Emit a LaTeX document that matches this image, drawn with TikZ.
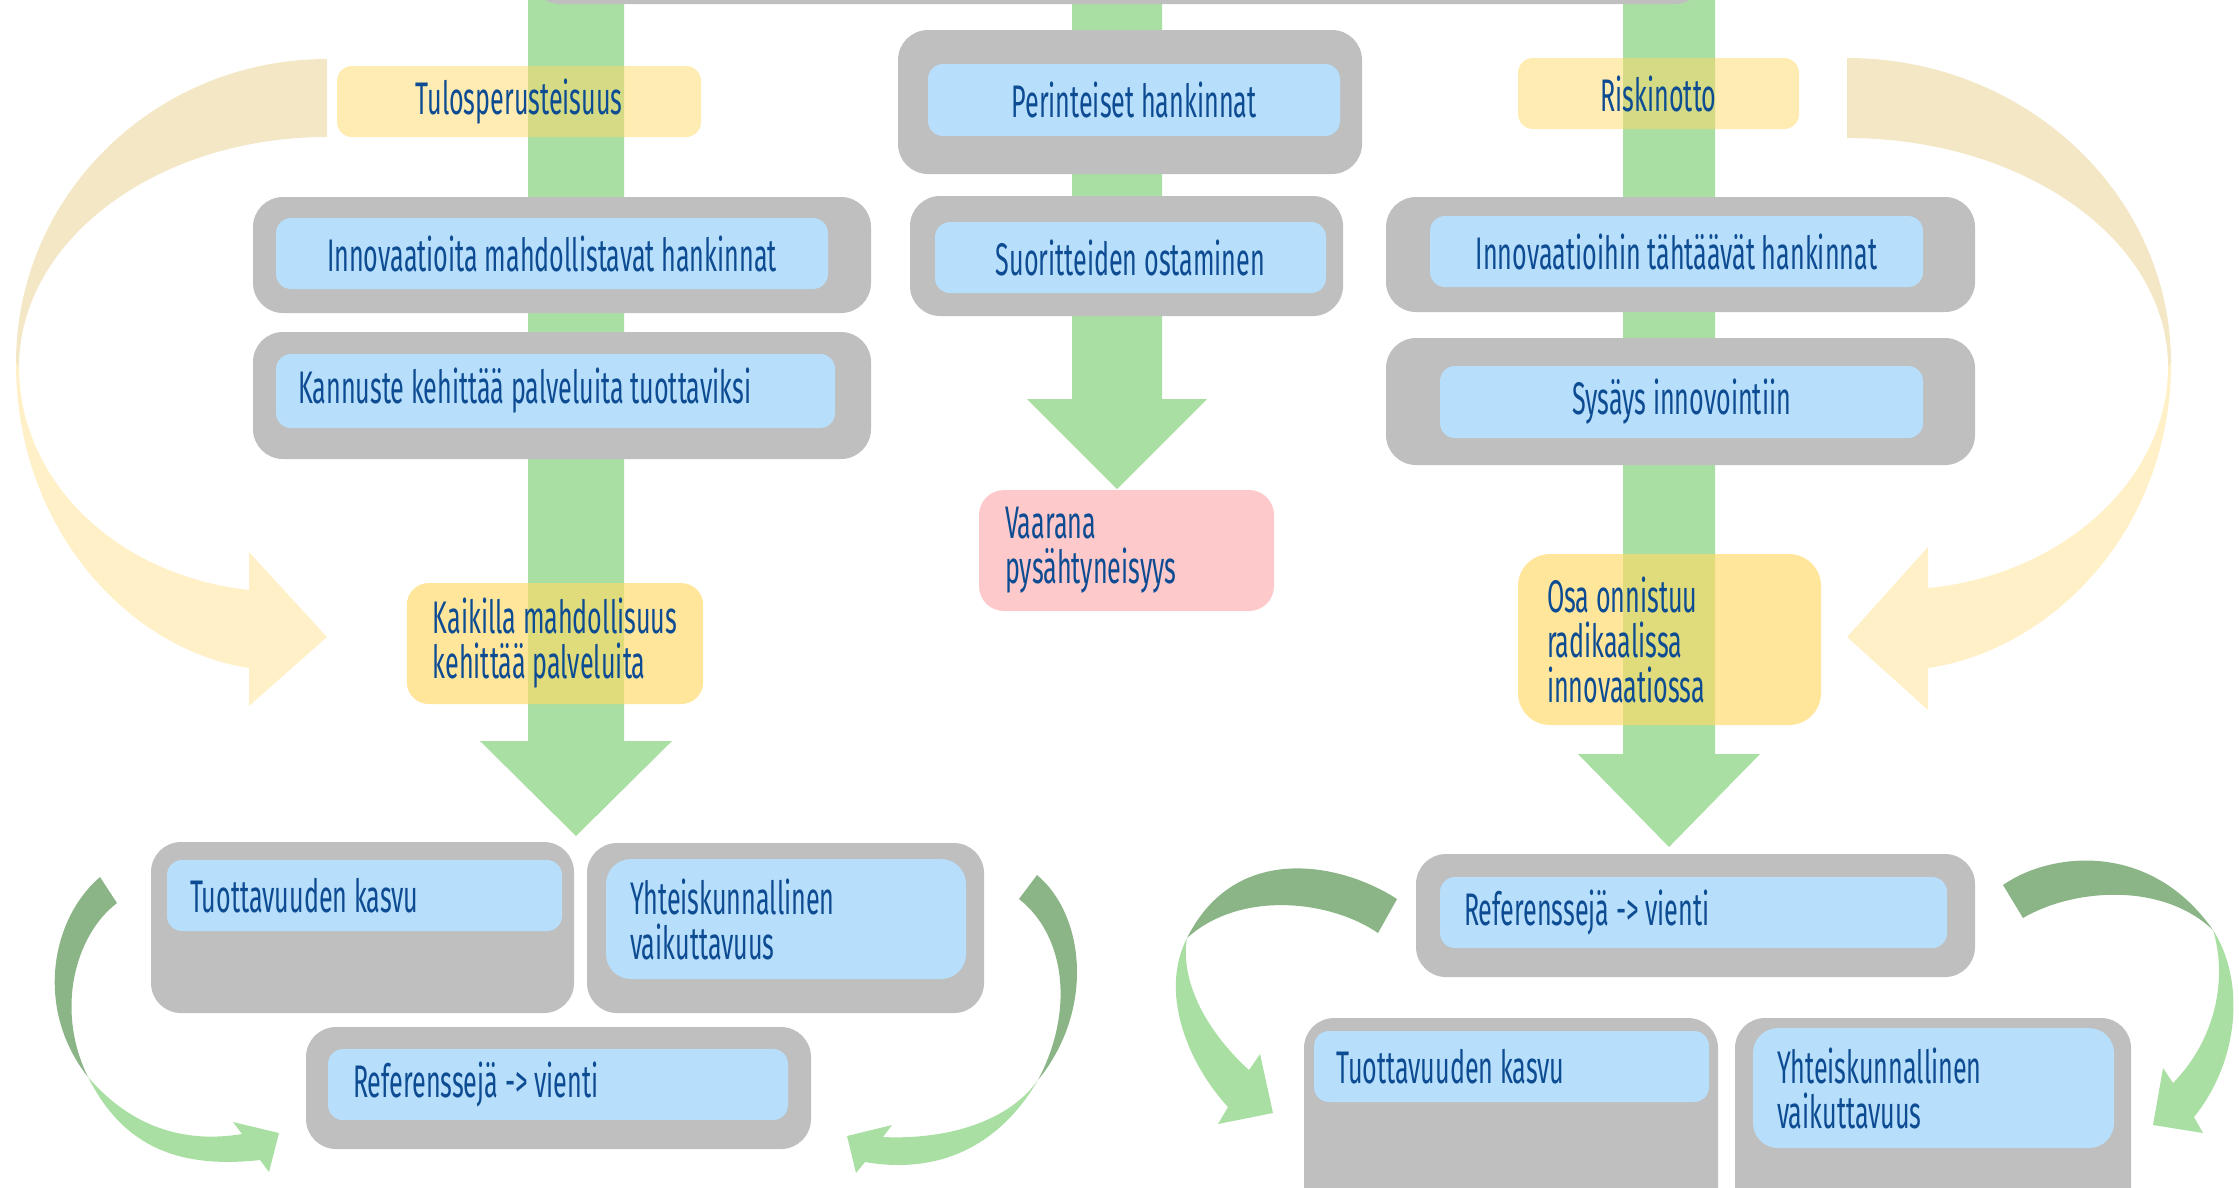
\documentclass[tikz,border=0pt]{standalone}
\usepackage{fontspec}
\newfontfamily\agency[FakeStretch=0.55]{Fira Sans}
\newcommand\boxfont{\agency\fontsize{13pt}{12.8pt}\selectfont}
\definecolor{cgray}{HTML}{BFBFBF}
\definecolor{cblue}{HTML}{B7DEFA}
\definecolor{cgreen}{HTML}{A9DFA3}
\definecolor{cdgreen}{HTML}{8BB587}
\definecolor{cyell}{HTML}{FFD966}
\definecolor{cpink}{HTML}{FDC9CA}
\definecolor{carcb}{HTML}{F3E7C6}
\definecolor{carcf}{HTML}{FFF0C8}
\definecolor{ctext}{HTML}{0D4C92}

\begin{document}
\begin{tikzpicture}[
  x=0.1mm, y=-0.1mm,
  gbox/.style={fill=cgray, rounded corners=3mm, inner sep=0pt},
  bbox/.style={fill=cblue, rounded corners=1.5mm, inner xsep=2.4mm,
               inner ysep=0pt, text=ctext, font=\boxfont},
  ybox/.style={fill=cyell, fill opacity=0.5, text opacity=1,
               rounded corners=1.5mm, inner xsep=2.6mm, inner ysep=0pt,
               text=ctext, font=\boxfont},
  pbox/.style={fill=cpink, rounded corners=2.5mm, inner xsep=2.6mm,
               inner ysep=0pt, text=ctext, font=\boxfont},
  wh/.style 2 args={minimum width=#1mm, minimum height=#2mm},
  ltxt/.style={align=flush left, text width=#1mm},
  shaft/.style={fill=cgreen},
  twist/.style={fill=cdgreen},
  arcb/.style={fill=carcb},
  arcf/.style={fill=carcf},
]
\useasboundingbox (0,0) rectangle (2239,1187);
\clip (0,0) rectangle (2239,1187);

%% ---------- big side arcs ----------
\fill[arcb] (327,59) .. controls (155,59) and (16,195) .. (16,363)
  -- (19,367) .. controls (19,240) and (157,137) .. (327,137) -- cycle;
\fill[arcf] (16,363) .. controls (16,530) and (130,650) .. (249,668)
  -- (249,706) -- (327,637) -- (249,552) -- (249,590)
  .. controls (115,575) and (19,480) .. (19,367) -- cycle;

\fill[arcb] (1847,58) .. controls (2026,58) and (2171,195) .. (2171,363)
  -- (2168,367) .. controls (2168,240) and (2024,138) .. (1847,138) -- cycle;
\fill[arcf] (2171,363) .. controls (2171,530) and (2052,650) .. (1928,668)
  -- (1928,710) -- (1847,637) -- (1928,547) -- (1928,588)
  .. controls (2062,575) and (2168,480) .. (2168,367) -- cycle;

%% ---------- vertical block arrows ----------
\foreach \x/\s/\hw/\b/\t in {576/48/96/741/836, 1117/45/90/399/489,
                             1669/46/91/754/847}
  \fill[shaft] (\x-\s,-10) -- (\x-\s,\b) -- (\x-\hw,\b) -- (\x,\t)
    -- (\x+\hw,\b) -- (\x+\s,\b) -- (\x+\s,-10) -- cycle;

%% ---------- twisted arrows, left group ----------
\fill[twist] (100,877) .. controls (50,920) and (35,1010) .. (88,1077)
  .. controls (55,1010) and (75,935) .. (117,903) -- cycle;
\fill[shaft] (88,1077) .. controls (120,1140) and (170,1170) .. (260,1160)
  -- (269,1172) -- (279,1133) -- (233,1122) -- (242,1134)
  .. controls (175,1145) and (125,1120) .. (88,1077) -- cycle;

\fill[twist] (1037,875) .. controls (1085,915) and (1095,1010) .. (1038,1080)
  .. controls (1075,1010) and (1065,935) .. (1019,899) -- cycle;
\fill[shaft] (1038,1080) .. controls (1000,1145) and (940,1175) .. (865,1162)
  -- (856,1173) -- (847,1136) -- (892,1125) -- (883,1137)
  .. controls (950,1140) and (1010,1120) .. (1038,1080) -- cycle;

%% ---------- twisted arrows, right group ----------
\fill[twist] (1397,899) .. controls (1340,862) and (1235,842) .. (1187,938)
  .. controls (1240,890) and (1330,900) .. (1378,933) -- cycle;
\fill[shaft] (1187,938) .. controls (1160,990) and (1185,1060) .. (1228,1107)
  -- (1218,1124) -- (1273,1113) -- (1260,1054) -- (1249,1070)
  .. controls (1205,1030) and (1180,980) .. (1187,938) -- cycle;

\fill[twist] (2003,885) .. controls (2050,852) and (2150,840) .. (2213,930)
  .. controls (2160,880) and (2070,890) .. (2023,918) -- cycle;
\fill[shaft] (2213,930) .. controls (2245,980) and (2240,1060) .. (2194,1117)
  -- (2203,1133) -- (2153,1125) -- (2163,1068) -- (2173,1083)
  .. controls (2215,1040) and (2228,980) .. (2213,930) -- cycle;

%% ---------- middle column ----------
\node[gbox, wh={117.5}{12.4}] (topbar) at (1117.5,-58) {};
\node[gbox, wh={46.4}{14.4}] (gperin) at (1130,102) {};
\node[bbox, wh={41.2}{7.2}] (perin) at (1134,100) {Perinteiset hankinnat};
\node[gbox, wh={43.3}{12.0}] (gsuor) at (1126.5,256) {};
\node[bbox, wh={39.1}{7.1}] (suor) at (1130.5,257.5) {Suoritteiden ostaminen};
\node[pbox, wh={29.5}{12.1}, ltxt=24.3] (vaara) at (1126.5,550.5)
  {Vaarana\\pysähtyneisyys};

%% ---------- left column ----------
\node[gbox, wh={61.8}{11.6}] (ginnol) at (562,255) {};
\node[bbox, wh={55.2}{7.1}] (innol) at (552,253.5)
  {Innovaatioita mahdollistavat hankinnat};
\node[gbox, wh={61.8}{12.7}] (gkann) at (562,395.5) {};
\node[bbox, wh={55.9}{7.4}, inner xsep=2.2mm, ltxt=51.5] (kann) at (555.5,391)
  {Kannuste kehittää palveluita tuottaviksi};

\node[gbox, wh={42.3}{17.1}] (gtuotl) at (362.5,927.5) {};
\node[bbox, wh={39.5}{7.1}, inner xsep=2.3mm, ltxt=34.9] (tuotl) at (364.5,895.5)
  {Tuottavuuden kasvu};
\node[gbox, wh={39.7}{17.0}] (gyhtl) at (785.5,928) {};
\node[bbox, rounded corners=2.5mm, wh={36.0}{12.0}, ltxt=31.2] (yhtl) at (786,919)
  {Yhteiskunnallinen\\vaikuttavuus};
\node[gbox, wh={50.5}{12.2}] (grefl) at (558.5,1088) {};
\node[bbox, wh={46.0}{7.1}, inner xsep=2.5mm, ltxt=41.0] (refl) at (558,1084.5)
  {Referenssejä -{}> vienti};

%% ---------- right column ----------
\node[gbox, wh={58.9}{11.5}] (ginnor) at (1680.5,254.5) {};
\node[bbox, wh={49.3}{7.1}] (innor) at (1676.5,251.5)
  {Innovaatioihin tähtäävät hankinnat};
\node[gbox, wh={58.9}{12.7}] (gsysa) at (1680.5,401.5) {};
\node[bbox, wh={48.3}{7.2}] (sysa) at (1681.5,402) {Sysäys innovointiin};

\node[gbox, wh={55.9}{12.3}] (grefr) at (1695.5,915.5) {};
\node[bbox, wh={50.7}{7.1}, ltxt=45.9] (refr) at (1693.5,912.5)
  {Referenssejä -{}> vienti};
\node[gbox, wh={41.4}{21.2}] (gtuotr) at (1511,1124) {};
\node[bbox, wh={39.5}{7.1}, inner xsep=2.2mm, ltxt=35.1] (tuotr) at (1511.5,1066.5)
  {Tuottavuuden kasvu};
\node[gbox, wh={39.6}{21.2}] (gyhtr) at (1933,1124) {};
\node[bbox, rounded corners=2.5mm, wh={36.1}{12.0}, ltxt=31.3] (yhtr) at (1933.5,1088)
  {Yhteiskunnallinen\\vaikuttavuus};

%% ---------- yellow notes over the arrows ----------
\node[ybox, wh={36.4}{7.1}] (tulos) at (519,101.5) {Tulosperusteisuus};
\node[ybox, wh={28.1}{7.1}] (riski) at (1658.5,93.5) {Riskinotto};
\node[ybox, fill opacity=0.65, rounded corners=2.2mm, wh={29.4}{12.1},
      align=flush left]
  (kaik) at (555,643.5) {Kaikilla mahdollisuus\\kehittää palveluita};
\node[ybox, fill opacity=0.65, rounded corners=3.2mm, wh={30.3}{17.1},
      inner xsep=2.9mm, ltxt=24.5]
  (osa) at (1669.5,639.5) {Osa onnistuu\\radikaalissa\\innovaatiossa};

\end{tikzpicture}
\end{document}
